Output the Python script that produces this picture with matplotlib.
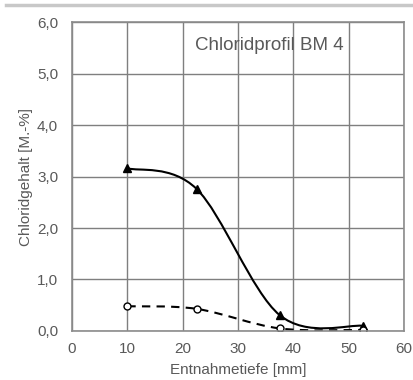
import numpy as np
import matplotlib.pyplot as plt
from matplotlib.path import Path
from matplotlib.patches import PathPatch
from matplotlib.ticker import FuncFormatter

plt.rcParams['font.family'] = ['Liberation Sans', 'DejaVu Sans']

depth = [10, 22.5, 37.5, 52.5]
total = [3.16, 2.76, 0.31, 0.10]
dissolved = [0.48, 0.43, 0.05, 0.02]


def smooth_path(xs, ys):
    # Excel-like smoothed line: cubic Bezier through the points
    pts = np.column_stack([xs, ys]).astype(float)
    ext = np.vstack([pts[0], pts, pts[-1]])
    verts = [pts[0]]
    codes = [Path.MOVETO]
    for i in range(len(pts) - 1):
        p0, p1, p2, p3 = ext[i], ext[i + 1], ext[i + 2], ext[i + 3]
        verts += [p1 + (p2 - p0) / 6, p2 - (p3 - p1) / 6, p2]
        codes += [Path.CURVE4] * 3
    return Path(verts, codes)


fig = plt.figure(figsize=(4.14, 3.8), dpi=100)
ax = fig.add_axes([0.174, 0.129, 0.802, 0.813])

fig.add_artist(plt.Line2D([0.015, 1.0], [0.988, 0.988], color='#c8c8c8', lw=2.5))

ax.add_patch(PathPatch(smooth_path(depth, total), fill=False, color='black', lw=1.5))
ax.add_patch(PathPatch(smooth_path(depth, dissolved), fill=False, color='black', lw=1.5,
                       linestyle=(0, (4, 3))))
ax.plot(depth, total, linestyle='none', marker='^', color='black', markersize=6)
ax.plot(depth, dissolved, linestyle='none', marker='o', markerfacecolor='white',
        markeredgecolor='black', markersize=5, markeredgewidth=1)

ax.set_xlim(0, 60)
ax.set_ylim(0, 6)
ax.set_xticks(range(0, 61, 10))
ax.set_yticks(range(0, 7))
ax.yaxis.set_major_formatter(FuncFormatter(lambda v, p: f'{v:.1f}'.replace('.', ',')))
ax.grid(True, color='#7f7f7f', lw=1)
ax.set_axisbelow(True)
for s in ax.spines.values():
    s.set_color('#8c8c8c')
    s.set_linewidth(1.2)
ax.tick_params(length=0, labelsize=11, labelcolor='#595959')
ax.tick_params(axis='y', pad=10)
ax.tick_params(axis='x', pad=8)

ax.set_xlabel('Entnahmetiefe [mm]', fontsize=11, color='#595959', labelpad=5)
ax.set_ylabel('Chloridgehalt [M.-%]', fontsize=11, color='#595959', labelpad=3)
ax.text(35.6, 5.55, 'Chloridprofil BM 4', fontsize=13.5, color='#595959',
        ha='center', va='center')

fig.savefig('out.png', dpi=100)
